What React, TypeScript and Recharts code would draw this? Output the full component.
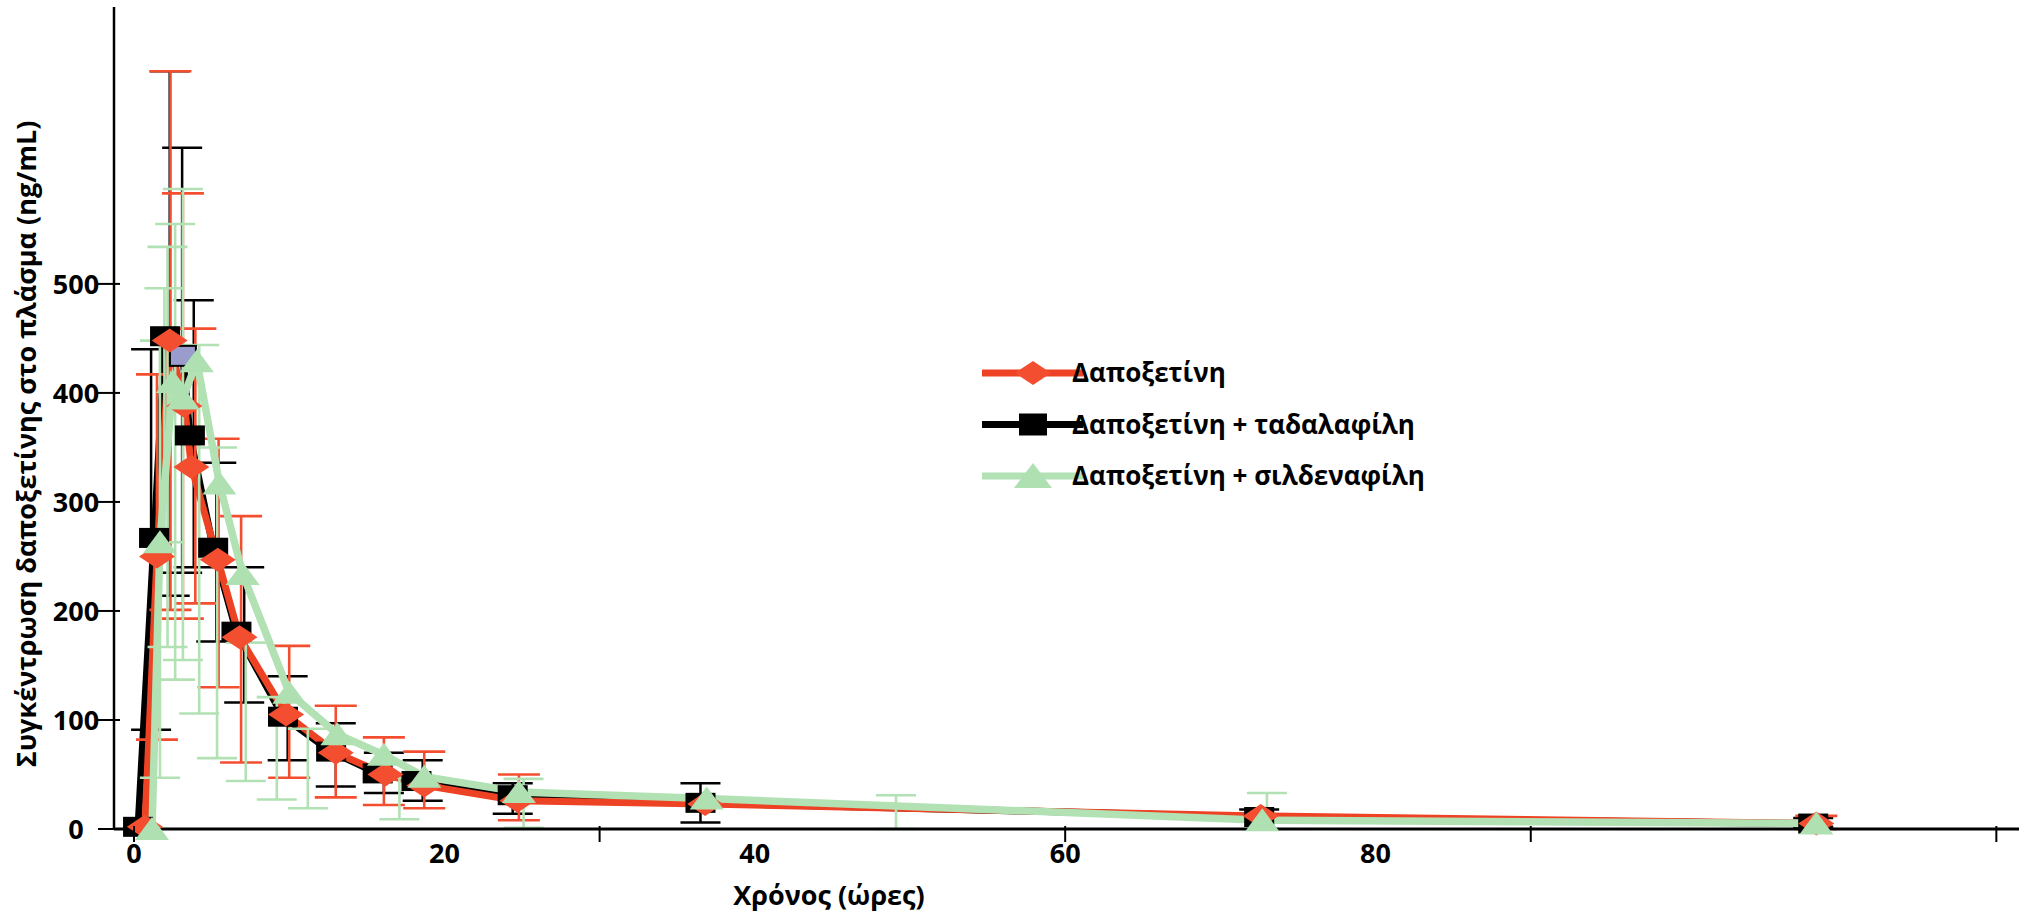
import React from 'react';
import { ComposedChart, Line, Scatter, XAxis, YAxis, ErrorBar, Legend } from 'recharts';

const CHART_W = 2019;
const CHART_H = 914;

// Series names, in legend order
const NAME_DAPOX = 'Δαποξετίνη';
const NAME_TADA = 'Δαποξετίνη + ταδαλαφίλη';
const NAME_SILD = 'Δαποξετίνη + σιλδεναφίλη';
const LEGEND_ORDER = [NAME_DAPOX, NAME_TADA, NAME_SILD];

// Mean plasma concentration of dapoxetine (ng/mL) against time (h)
const dapoxTime = [0.7, 1.48, 2.3, 3.25, 3.7, 5.4, 6.8, 9.8, 13.0, 16.2, 18.7, 24.7, 36.8, 72.6, 108.4];
const dapoxConc = [2, 250, 448, 388, 332, 247, 176, 105, 70, 50, 40, 26, 23, 12, 5];

const tadaTime = [0.26, 1.29, 2.0, 3.15, 3.6, 5.1, 6.6, 9.6, 12.7, 15.7, 18.2, 24.4, 36.5, 72.5, 108.2];
const tadaConc = [2, 267, 452, 434, 361, 258, 181, 103, 71, 51, 44, 31, 24, 11, 5];
// the one tadalafil point drawn with a shaded marker
const TADA_SHADED_INDEX = 3;

const sildTime = [1.16, 1.67, 2.5, 3.15, 4.05, 5.5, 7.0, 10.0, 13.1, 16.1, 18.7, 24.8, 36.9, 72.7, 108.4];
const sildConc = [0, 263, 410, 395, 429, 317, 234, 125, 87, 68, 48, 34, 28, 8, 5];

// Error bars: time (h), lower end and upper end (ng/mL)
const dapoxErrTime = [1.48, 2.35, 3.15, 3.95, 5.45, 6.9, 10.0, 13.0, 16.1, 18.7, 24.8, 108.4];
const dapoxErrLow = [82, 201, 193, 207, 130, 61, 47, 29, 22, 19, 8, 0];
const dapoxErrHigh = [417, 695, 583, 459, 358, 287, 168, 113, 84, 71, 50, 12];

const tadaErrTime = [1.1, 2.3, 3.1, 3.85, 5.3, 7.1, 9.9, 13.0, 16.1, 18.6, 24.4, 36.5, 72.5, 108.2];
const tadaErrLow = [91, 214, 235, 240, 172, 116, 63, 39, 33, 26, 14, 6, 8, 2];
const tadaErrHigh = [440, 695, 625, 485, 336, 240, 140, 97, 70, 63, 42, 42, 18, 10];

const sildErrTime = [1.67, 1.96, 2.16, 2.65, 3.15, 4.2, 5.35, 7.2, 9.2, 11.2, 17.1, 25.1, 49.1, 73.0];
const sildErrLow = [47, 263, 167, 137, 155, 106, 65, 44, 27, 19, 9, 1, 0, 0];
const sildErrHigh = [448, 496, 534, 555, 587, 444, 350, 171, 121, 92, 47, 46, 31, 33];

// Axis ticks
const xLabelTicks = [0, 20, 40, 60, 80];
const xMarkTicks = [0, 30, 60, 90, 120];
const yTicks = [0, 100, 200, 300, 400, 500];

const X_TITLE = 'Χρόνος (ώρες)';
const Y_TITLE = 'Συγκέντρωση δαποξετίνης στο πλάσμα (ng/mL)';

const RED = '#ee4224';
const RED_MARK = '#f44e31';
const GREEN = '#b2e1b4';
const GREEN_MARK = '#afe0b1';
const BLACK = '#000000';
const LAVENDER = '#9a9dcb';

const FONT = '"Open Sans", "Noto Sans", "Liberation Sans", sans-serif';

const toPoints = (ts: number[], vs: number[]) => ts.map((t, i) => ({ t, v: vs[i] }));
const toBars = (ts: number[], lo: number[], hi: number[]) =>
  ts.map((t, i) => ({ t, lo: lo[i], span: [0, hi[i] - lo[i]] }));

const dapoxData = toPoints(dapoxTime, dapoxConc);
const tadaData = toPoints(tadaTime, tadaConc);
const sildData = toPoints(sildTime, sildConc);
const dapoxBars = toBars(dapoxErrTime, dapoxErrLow, dapoxErrHigh);
const tadaBars = toBars(tadaErrTime, tadaErrLow, tadaErrHigh);
const sildBars = toBars(sildErrTime, sildErrLow, sildErrHigh);

// Marker shapes
const diamondShape = (cx: number, cy: number, key: string) => (
  <polygon
    key={key}
    points={`${cx - 18},${cy} ${cx},${cy - 12} ${cx + 18},${cy} ${cx},${cy + 12}`}
    fill={RED_MARK}
  />
);
const squareShape = (cx: number, cy: number, key: string, shaded = false) =>
  shaded ? (
    <rect key={key} x={cx - 13} y={cy - 10} width={26} height={20} fill={LAVENDER} stroke={BLACK} strokeWidth={2} />
  ) : (
    <rect key={key} x={cx - 15} y={cy - 10} width={30} height={20} fill={BLACK} />
  );
const triangleShape = (cx: number, cy: number, key: string) => (
  <polygon
    key={key}
    points={`${cx - 17},${cy + 11} ${cx},${cy - 12} ${cx + 17},${cy + 11}`}
    fill={GREEN_MARK}
  />
);

const ok = (p: any) => Number.isFinite(p.cx) && Number.isFinite(p.cy);

const DapoxDot = (p: any) =>
  ok(p) ? diamondShape(p.cx, p.cy, `dd-${p.index}`) : <g key={`dd-${p.index}`} />;
const TadaDot = (p: any) =>
  ok(p) ? squareShape(p.cx, p.cy, `td-${p.index}`, p.index === TADA_SHADED_INDEX) : <g key={`td-${p.index}`} />;
const SildDot = (p: any) =>
  ok(p) ? triangleShape(p.cx, p.cy, `sd-${p.index}`) : <g key={`sd-${p.index}`} />;

const NoShape = () => <g />;

// Axis ticks: labels every 20 h, tick marks every 30 h
const XTick = (props: any) => {
  const { x, y, payload } = props;
  const v = payload.value;
  return (
    <g>
      {xMarkTicks.includes(v) && <line x1={x} x2={x} y1={y - 3} y2={y + 13} stroke={BLACK} strokeWidth={2} />}
      {xLabelTicks.includes(v) && (
        <text x={x} y={y + 34} textAnchor="middle" fontFamily={FONT} fontWeight={700} fontSize={27} fill={BLACK}>
          {v}
        </text>
      )}
    </g>
  );
};

const YTick = (props: any) => {
  const { x, y, payload } = props;
  return (
    <g>
      <line x1={x - 16} x2={x + 6} y1={y} y2={y} stroke={BLACK} strokeWidth={2} />
      <text x={x - 38} y={y + 10} textAnchor="middle" fontFamily={FONT} fontWeight={700} fontSize={27} fill={BLACK}>
        {payload.value}
      </text>
    </g>
  );
};

const XTitle = (props: any) => {
  const vb = props.viewBox || { x: 0, y: 0 };
  return (
    <text x={829} y={vb.y + 76} textAnchor="middle" fontFamily={FONT} fontWeight={700} fontSize={27} fill={BLACK}>
      {X_TITLE}
    </text>
  );
};

const YTitle = (props: any) => {
  const vb = props.viewBox || { x: 0, y: 0 };
  const cx = vb.x + 26;
  const cy = vb.y + 437;
  return (
    <text
      x={cx}
      y={cy}
      transform={`rotate(-90 ${cx} ${cy})`}
      dy={10}
      textAnchor="middle"
      fontFamily={FONT}
      fontWeight={700}
      fontSize={27}
      fill={BLACK}
    >
      {Y_TITLE}
    </text>
  );
};

const legendMarker: Record<string, (cx: number, cy: number, key: string) => React.ReactNode> = {
  [NAME_DAPOX]: diamondShape,
  [NAME_TADA]: (cx, cy, key) => (
    <rect key={key} x={cx - 14} y={cy - 11} width={28} height={22} fill={BLACK} />
  ),
  [NAME_SILD]: (cx, cy, key) => (
    <polygon key={key} points={`${cx - 19},${cy + 12} ${cx},${cy - 13} ${cx + 19},${cy + 12}`} fill={GREEN_MARK} />
  ),
};

const renderLegend = (props: any) => {
  const items = (props.payload || [])
    .filter((e: any) => LEGEND_ORDER.includes(e.value))
    .sort((a: any, b: any) => LEGEND_ORDER.indexOf(a.value) - LEGEND_ORDER.indexOf(b.value));
  return (
    <svg width={540} height={180} style={{ overflow: 'visible', display: 'block' }}>
      {items.map((e: any, i: number) => {
        const y = 43 + i * 51.5;
        return (
          <g key={e.value}>
            <line x1={12} x2={113} y1={y} y2={y} stroke={e.color} strokeWidth={7} />
            {legendMarker[e.value](63, y, `m-${i}`)}
            <text x={102} y={y + 9} fontFamily={FONT} fontWeight={700} fontSize={26} fill={BLACK}>
              {e.value}
            </text>
          </g>
        );
      })}
    </svg>
  );
};

export default function App() {
  return (
    <div style={{ position: 'absolute', left: 0, top: 0, width: CHART_W, height: CHART_H, background: '#ffffff' }}>
      <ComposedChart width={CHART_W} height={CHART_H} margin={{ top: 7, right: 0, bottom: 0, left: 0 }}>
        <XAxis
          type="number"
          dataKey="t"
          domain={[-1.29, 121.46]}
          allowDataOverflow
          ticks={[0, 20, 30, 40, 60, 80, 90, 120]}
          interval={0}
          tickLine={false}
          tickSize={0}
          tickMargin={0}
          tick={<XTick />}
          axisLine={{ stroke: BLACK, strokeWidth: 3 }}
          height={85}
          label={XTitle}
        />
        <YAxis
          type="number"
          domain={[0, 754]}
          ticks={yTicks}
          interval={0}
          tickLine={false}
          tickSize={0}
          tickMargin={0}
          tick={<YTick />}
          axisLine={{ stroke: BLACK, strokeWidth: 2.5 }}
          width={114}
          label={YTitle}
        />
        <Legend
          content={renderLegend}
          layout="horizontal"
          verticalAlign="middle"
          align="center"
          width={540}
          height={180}
          wrapperStyle={{ left: 970, top: 330, width: 540, height: 180 }}
        />

        <Scatter data={tadaBars} dataKey="lo" shape={NoShape} legendType="none" isAnimationActive={false}>
          <ErrorBar dataKey="span" direction="y" width={20} stroke={BLACK} strokeWidth={2.5} isAnimationActive={false} />
        </Scatter>
        <Line
          data={tadaData}
          dataKey="v"
          name={NAME_TADA}
          stroke={BLACK}
          strokeWidth={7}
          dot={TadaDot}
          activeDot={false}
          isAnimationActive={false}
        />

        <Scatter data={dapoxBars} dataKey="lo" shape={NoShape} legendType="none" isAnimationActive={false}>
          <ErrorBar dataKey="span" direction="y" width={21} stroke={RED_MARK} strokeWidth={2.6} isAnimationActive={false} />
        </Scatter>
        <Line
          data={dapoxData}
          dataKey="v"
          name={NAME_DAPOX}
          stroke={RED}
          strokeWidth={7}
          dot={DapoxDot}
          activeDot={false}
          isAnimationActive={false}
        />

        <Scatter data={sildBars} dataKey="lo" shape={NoShape} legendType="none" isAnimationActive={false}>
          <ErrorBar dataKey="span" direction="y" width={20} stroke={GREEN} strokeWidth={2.6} isAnimationActive={false} />
        </Scatter>
        <Line
          data={sildData}
          dataKey="v"
          name={NAME_SILD}
          stroke={GREEN}
          strokeWidth={7.5}
          dot={SildDot}
          activeDot={false}
          isAnimationActive={false}
        />
      </ComposedChart>
    </div>
  );
}
